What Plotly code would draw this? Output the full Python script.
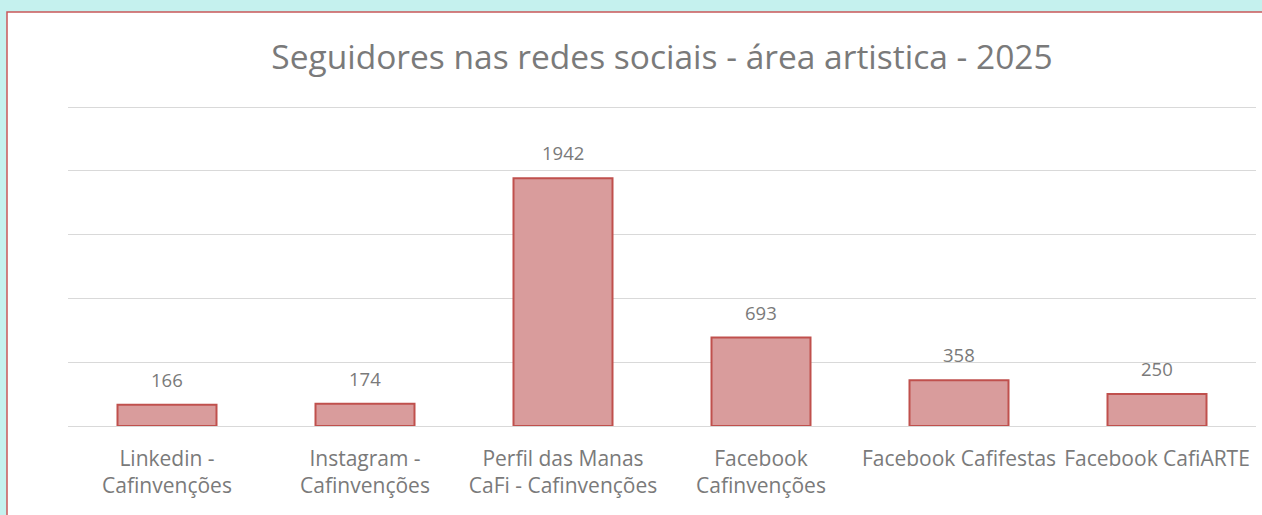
import plotly.graph_objects as go

categories = [
    "Linkedin -<br>Cafinvenções",
    "Instagram -<br>Cafinvenções",
    "Perfil das Manas<br>CaFi - Cafinvenções",
    "Facebook<br>Cafinvenções",
    "Facebook Cafifestas",
    "Facebook CafiARTE",
]
followers = [166, 174, 1942, 693, 358, 250]
title_text = "Seguidores nas redes sociais - área artistica - 2025"

W, H = 1262, 515
ML, MR, MT, MB = 68, 6, 102, 89
pw, ph = W - ML - MR, H - MT - MB

TEXT = "#7a7a7a"
FONT = "Open Sans"

fig = go.Figure()
fig.add_trace(go.Bar(
    x=categories, y=followers,
    marker=dict(color="#d99c9c", line=dict(color="#c0504d", width=2)),
    width=0.5,
    hoverinfo="x+y",
))

for c, v in zip(categories, followers):
    fig.add_annotation(x=c, y=v, text=str(v), showarrow=False, yanchor="bottom",
                       yshift=11, font=dict(family=FONT, size=18.5, color=TEXT))

# chart card (white, red border) on teal page
fig.add_shape(type="rect", xref="paper", yref="paper",
              x0=(7 - ML) / pw, x1=(W + 20 - ML) / pw,
              y0=-(H + 20 - (H - MB)) / ph, y1=((H - MB) - 12) / ph,
              fillcolor="white", line=dict(color="#c9585a", width=1.5), layer="below")

fig.update_layout(
    width=W, height=H,
    margin=dict(l=ML, r=MR, t=MT, b=MB),
    paper_bgcolor="#c5f1ee", plot_bgcolor="rgba(0,0,0,0)",
    showlegend=False,
    title=dict(text=title_text, x=0.5, xref="paper", y=1 - 57 / H, yanchor="middle",
               font=dict(family=FONT, size=33.5, color=TEXT)),
    xaxis=dict(showgrid=False, showline=False, zeroline=False, ticks="",
               tickfont=dict(family=FONT, size=21, color=TEXT), ticklabelstandoff=18),
    yaxis=dict(range=[0, 2540], tickvals=[0, 500, 1000, 1500, 2000, 2500],
               showticklabels=False, showgrid=True,
               gridcolor="#d9d9d9", gridwidth=1, zeroline=True, zerolinecolor="#d9d9d9",
               zerolinewidth=1, showline=False),
)

fig.write_html("out.html", config={"displayModeBar": False})

with open("out.html", encoding="utf-8") as f:
    html = f.read()
html = html.replace("<body>", '<body style="margin:0;padding:0;overflow:hidden">', 1)
with open("out.html", "w", encoding="utf-8") as f:
    f.write(html)
